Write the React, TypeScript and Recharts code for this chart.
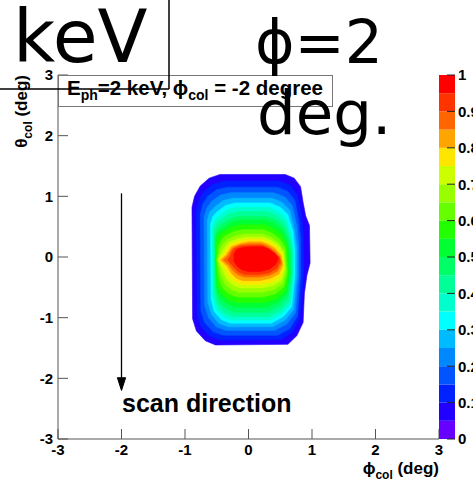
import React from "react";
import { ScatterChart, Scatter, XAxis, YAxis, BarChart, Bar } from "recharts";

const FONT = '"Liberation Sans", Arial, Helvetica, sans-serif';

// axis ticks (degrees)
const phiTicks = [-3, -2, -1, 0, 1, 2, 3];
const thetaTicks = [-3, -2, -1, 0, 1, 2, 3];
const minorTicks = [
  -3, -2.8, -2.6, -2.4, -2.2, -2, -1.8, -1.6, -1.4, -1.2, -1, -0.8, -0.6, -0.4, -0.2, 0,
  0.2, 0.4, 0.6, 0.8, 1, 1.2, 1.4, 1.6, 1.8, 2, 2.2, 2.4, 2.6, 2.8, 3,
];

// colour palette (z axis, 20 bands from 0 to 1)
const paletteBounds = [0, 0.05, 0.1, 0.15, 0.2, 0.25, 0.3, 0.35, 0.4, 0.45, 0.5, 0.55, 0.6, 0.65, 0.7, 0.75, 0.8, 0.85, 0.9, 0.95, 1];
const paletteColors = [
  "#6600ff", "#2200ff", "#0022ff", "#0055ff", "#0088ff", "#00bbff", "#00ffff", "#00ffcc", "#00ff99", "#00ff66",
  "#00ff33", "#22ff00", "#66ff00", "#99ff00", "#ccff00", "#ffe600", "#ffa500", "#ff6600", "#ff3300", "#ff0000",
];
const paletteTicks = [0, 0.1, 0.2, 0.3, 0.4, 0.5, 0.6, 0.7, 0.8, 0.9, 1];

// filled contours: lower edge of each band and its outline (phi, theta)
const contourLevels = [0.05, 0.1, 0.15, 0.2, 0.25, 0.3, 0.35, 0.4, 0.45, 0.5, 0.55, 0.6, 0.65, 0.7, 0.75, 0.8, 0.85, 0.9, 0.95];
const contourRings: [number, number][][] = [
  [[-0.76,1.17],[-0.62,1.3],[-0.45,1.36],[0.58,1.36],[0.72,1.3],[0.82,1.16],[0.86,0.9],[0.9,0.68],[0.96,0.52],[0.97,-0.1],[0.92,-0.3],[0.88,-0.6],[0.86,-1.08],[0.76,-1.3],[0.62,-1.44],[-0.52,-1.45],[-0.68,-1.38],[-0.82,-1.22],[-0.88,-1.02],[-0.89,0.82],[-0.85,1.0]],
  [[-0.7,1.08],[-0.56,1.2],[-0.4,1.25],[0.5,1.25],[0.66,1.18],[0.77,1.02],[0.83,0.7],[0.86,0.4],[0.87,-0.2],[0.84,-0.6],[0.8,-1.02],[0.69,-1.24],[0.52,-1.36],[-0.45,-1.37],[-0.62,-1.3],[-0.75,-1.15],[-0.81,-0.95],[-0.82,0.75],[-0.78,0.94]],
  [[-0.64,1.0],[-0.5,1.11],[-0.33,1.15],[0.45,1.15],[0.62,1.08],[0.73,0.93],[0.79,0.6],[0.82,0.3],[0.82,-0.3],[0.77,-0.98],[0.65,-1.18],[0.46,-1.29],[-0.4,-1.29],[-0.56,-1.23],[-0.69,-1.08],[-0.75,-0.88],[-0.76,0.7],[-0.72,0.87]],
  [[-0.58,0.92],[-0.44,1.02],[-0.28,1.06],[0.4,1.06],[0.57,0.99],[0.69,0.85],[0.76,0.52],[0.79,0.2],[0.79,-0.3],[0.74,-0.92],[0.61,-1.1],[0.41,-1.21],[-0.35,-1.21],[-0.51,-1.15],[-0.63,-1.0],[-0.69,-0.8],[-0.7,0.65],[-0.66,0.8]],
  [[-0.53,0.83],[-0.4,0.93],[-0.24,0.97],[0.37,0.97],[0.53,0.9],[0.65,0.77],[0.72,0.47],[0.76,0.15],[0.76,-0.3],[0.71,-0.87],[0.58,-1.04],[0.38,-1.15],[-0.32,-1.15],[-0.47,-1.09],[-0.58,-0.95],[-0.64,-0.75],[-0.65,0.6],[-0.61,0.74]],
  [[-0.49,0.75],[-0.36,0.85],[-0.21,0.89],[0.34,0.89],[0.5,0.82],[0.62,0.7],[0.7,0.42],[0.73,0.12],[0.73,-0.3],[0.68,-0.82],[0.55,-0.98],[0.36,-1.09],[-0.29,-1.09],[-0.43,-1.03],[-0.54,-0.9],[-0.59,-0.7],[-0.6,0.54],[-0.56,0.67]],
  [[-0.46,0.68],[-0.33,0.78],[-0.19,0.82],[0.32,0.82],[0.47,0.75],[0.59,0.64],[0.67,0.38],[0.71,0.1],[0.71,-0.3],[0.66,-0.78],[0.53,-0.93],[0.34,-1.04],[-0.27,-1.04],[-0.4,-0.98],[-0.51,-0.86],[-0.56,-0.66],[-0.57,0.48],[-0.53,0.61]],
  [[-0.44,0.61],[-0.31,0.71],[-0.17,0.75],[0.3,0.75],[0.45,0.68],[0.57,0.57],[0.65,0.34],[0.69,0.08],[0.69,-0.3],[0.64,-0.73],[0.51,-0.88],[0.32,-0.98],[-0.25,-0.98],[-0.38,-0.92],[-0.49,-0.8],[-0.54,-0.6],[-0.55,0.43],[-0.51,0.55]],
  [[-0.42,0.54],[-0.29,0.63],[-0.15,0.67],[0.28,0.67],[0.43,0.61],[0.55,0.5],[0.63,0.3],[0.67,0.06],[0.67,-0.3],[0.62,-0.67],[0.49,-0.81],[0.3,-0.91],[-0.23,-0.91],[-0.36,-0.85],[-0.47,-0.74],[-0.52,-0.55],[-0.53,0.37],[-0.49,0.48]],
  [[-0.4,0.48],[-0.27,0.57],[-0.13,0.61],[0.26,0.61],[0.41,0.55],[0.53,0.45],[0.61,0.26],[0.65,0.04],[0.65,-0.3],[0.6,-0.61],[0.47,-0.74],[0.28,-0.83],[-0.21,-0.83],[-0.34,-0.77],[-0.45,-0.67],[-0.51,-0.5],[-0.52,0.32],[-0.48,0.42]],
  [[-0.38,0.42],[-0.25,0.5],[-0.11,0.53],[0.25,0.53],[0.39,0.47],[0.51,0.38],[0.6,0.2],[0.63,-0.28],[0.58,-0.56],[0.45,-0.68],[0.26,-0.75],[-0.19,-0.75],[-0.32,-0.7],[-0.43,-0.6],[-0.49,-0.45],[-0.51,-0.05],[-0.5,0.26],[-0.46,0.36]],
  [[-0.36,0.35],[-0.23,0.42],[-0.09,0.45],[0.24,0.45],[0.37,0.39],[0.49,0.3],[0.58,0.15],[0.61,-0.25],[0.56,-0.49],[0.43,-0.6],[0.24,-0.66],[-0.17,-0.66],[-0.3,-0.61],[-0.4,-0.52],[-0.46,-0.38],[-0.5,-0.05],[-0.47,0.19],[-0.42,0.29]],
  [[-0.33,0.29],[-0.2,0.35],[-0.06,0.38],[0.23,0.38],[0.36,0.32],[0.47,0.24],[0.56,0.1],[0.59,-0.22],[0.54,-0.43],[0.41,-0.53],[0.22,-0.58],[-0.15,-0.58],[-0.28,-0.53],[-0.37,-0.44],[-0.43,-0.3],[-0.49,-0.05],[-0.44,0.14],[-0.39,0.23]],
  [[-0.31,0.24],[-0.18,0.3],[-0.04,0.33],[0.22,0.33],[0.35,0.28],[0.46,0.2],[0.55,0.07],[0.57,-0.19],[0.52,-0.38],[0.39,-0.47],[0.2,-0.51],[-0.13,-0.51],[-0.25,-0.46],[-0.34,-0.37],[-0.4,-0.24],[-0.48,-0.05],[-0.41,0.1],[-0.36,0.18]],
  [[-0.29,0.2],[-0.16,0.26],[-0.02,0.29],[0.21,0.29],[0.33,0.25],[0.44,0.17],[0.53,0.05],[0.56,-0.16],[0.5,-0.33],[0.37,-0.41],[0.18,-0.45],[-0.11,-0.45],[-0.22,-0.4],[-0.31,-0.31],[-0.37,-0.19],[-0.47,-0.05],[-0.38,0.06],[-0.34,0.13]],
  [[-0.27,0.17],[-0.14,0.22],[0.0,0.25],[0.2,0.25],[0.31,0.21],[0.42,0.14],[0.51,0.03],[0.54,-0.13],[0.48,-0.28],[0.35,-0.35],[0.17,-0.39],[-0.09,-0.39],[-0.19,-0.35],[-0.27,-0.27],[-0.33,-0.16],[-0.44,-0.05],[-0.35,0.04],[-0.31,0.1]],
  [[-0.25,0.15],[-0.13,0.2],[0.02,0.22],[0.2,0.22],[0.3,0.18],[0.4,0.11],[0.49,0.01],[0.52,-0.1],[0.46,-0.23],[0.33,-0.3],[0.16,-0.33],[-0.07,-0.33],[-0.17,-0.29],[-0.25,-0.22],[-0.31,-0.13],[-0.4,-0.05],[-0.32,0.03],[-0.29,0.09]],
  [[-0.22,0.14],[-0.11,0.18],[0.03,0.19],[0.21,0.19],[0.3,0.15],[0.4,0.08],[0.48,0.0],[0.5,-0.07],[0.45,-0.18],[0.33,-0.26],[0.15,-0.29],[-0.05,-0.29],[-0.15,-0.25],[-0.22,-0.18],[-0.28,-0.11],[-0.33,-0.05],[-0.28,0.03],[-0.26,0.09]],
  [[-0.18,0.13],[-0.06,0.16],[0.05,0.17],[0.23,0.17],[0.32,0.13],[0.41,0.06],[0.47,-0.02],[0.43,-0.12],[0.33,-0.2],[0.18,-0.24],[0.0,-0.24],[-0.11,-0.21],[-0.18,-0.15],[-0.23,-0.07],[-0.23,0.05]],
];

// "scan direction" arrow
const arrowShaft = [{ x: -2, y: 1.05 }, { x: -2, y: -2.02 }];
const arrowHead = [{ x: -2.065, y: -1.99 }, { x: -1.935, y: -1.99 }, { x: -2, y: -2.2 }];

const paletteData = [
  Object.fromEntries(paletteColors.map((_, i) => [`b${i}`, paletteBounds[i + 1] - paletteBounds[i]])),
];

const noPoint = () => <g />;
const tickStyle = { fill: "#000", fontSize: 15, fontWeight: 700, fontFamily: FONT };

export default function App() {
  return (
    <div style={{ position: "absolute", left: 0, top: 0, width: 473, height: 482, background: "#fff", overflow: "hidden" }}>
      <div style={{ position: "absolute", left: 0, top: 0 }}>
        <ScatterChart width={473} height={482} margin={{ top: 75, right: 34, bottom: 0, left: 0 }}>
          <XAxis
            dataKey="x" type="number" domain={[-3, 3]} ticks={phiTicks} interval={0} allowDataOverflow
            height={43} tickSize={-10} tickMargin={15} stroke="#555" tick={tickStyle}
          />
          <XAxis
            xAxisId="minor" type="number" domain={[-3, 3]} ticks={minorTicks} interval={0} allowDataOverflow
            mirror tickSize={5} tick={false} axisLine={false} stroke="#555"
          />
          <XAxis xAxisId="top" orientation="top" type="number" domain={[-3, 3]} height={0} tick={false} tickLine={false} stroke="#777" />
          <YAxis
            dataKey="y" type="number" domain={[-3, 3]} ticks={thetaTicks} interval={0} allowDataOverflow
            width={58} tickSize={-10} tickMargin={15} stroke="#555" tick={tickStyle}
          />
          <YAxis
            yAxisId="minor" type="number" domain={[-3, 3]} ticks={minorTicks} interval={0} allowDataOverflow
            mirror tickSize={5} tick={false} axisLine={false} stroke="#555"
          />
          <YAxis yAxisId="right" orientation="right" type="number" domain={[-3, 3]} width={0} tick={false} tickLine={false} stroke="#777" />
          {contourRings.map((ring, i) => {
            const color = paletteColors[Math.round(contourLevels[i] / 0.05)];
            return (
              <Scatter
                key={`lvl${i}`}
                data={ring.map(([x, y]) => ({ x, y }))}
                fill={color}
                line={{ fill: color, stroke: color, strokeWidth: 0.6 }}
                lineType="joint"
                lineJointType="linearClosed"
                shape={noPoint}
                isAnimationActive={false}
              />
            );
          })}
          <Scatter
            data={arrowShaft} fill="#000" line={{ stroke: "#000", strokeWidth: 1.3 }}
            lineType="joint" shape={noPoint} isAnimationActive={false}
          />
          <Scatter
            data={arrowHead} fill="#000" line={{ fill: "#000", stroke: "#000", strokeWidth: 1 }}
            lineType="joint" lineJointType="linearClosed" shape={noPoint} isAnimationActive={false}
          />
        </ScatterChart>
      </div>
      <div style={{ position: "absolute", left: 439, top: 0 }}>
        <BarChart width={34} height={482} data={paletteData} margin={{ top: 75, right: 0, bottom: 43, left: 0 }} barCategoryGap={0}>
          <XAxis hide />
          <YAxis
            orientation="right" type="number" domain={[0, 1]} ticks={paletteTicks} interval={0} allowDataOverflow
            width={18} tickSize={-8} tickMargin={11} axisLine={false} stroke="#222" tick={tickStyle}
          />
          {paletteColors.map((c, i) => (
            <Bar key={c} dataKey={`b${i}`} stackId="z" fill={c} isAnimationActive={false} />
          ))}
        </BarChart>
      </div>
      <svg width={473} height={482} style={{ position: "absolute", left: 0, top: 0, pointerEvents: "none" }}>
        <rect x={58.5} y={75.5} width={274} height={31} fill="#fff" stroke="#777" />
        <text x={67} y={95} fontFamily={FONT} fontWeight={700} fontSize={20.5}>
          E<tspan fontSize={14} dy={5}>ph</tspan>
          <tspan dy={-5}>=2 keV, ϕ</tspan>
          <tspan fontSize={14} dy={5}>col</tspan>
          <tspan dy={-5}>{" = -2 degree"}</tspan>
        </text>
        <text x={122} y={412} fontFamily={FONT} fontWeight={700} fontSize={25}>scan direction</text>
        <text transform="translate(27,75) rotate(-90)" textAnchor="end" fontFamily={FONT} fontWeight={700} fontSize={17}>
          θ<tspan fontSize={12} dy={5}>col</tspan>
          <tspan dy={-5}>{" (deg)"}</tspan>
        </text>
        <text x={439} y={474} textAnchor="end" fontFamily={FONT} fontWeight={700} fontSize={17}>
          ϕ<tspan fontSize={12} dy={5}>col</tspan>
          <tspan dy={-5}>{" (deg)"}</tspan>
        </text>
        <text x={13} y={62} fontFamily='"DejaVu Sans", sans-serif' fontSize={73}>keV</text>
        <text x={255} y={63} fontFamily='"DejaVu Sans", sans-serif' fontSize={60}>ϕ=2</text>
        <text x={257} y={134} fontFamily='"DejaVu Sans", sans-serif' fontSize={61}>deg.</text>
        <line x1={169} y1={0} x2={169} y2={89} stroke="#000" strokeWidth={1.5} />
        <line x1={0} y1={89} x2={169} y2={89} stroke="#000" strokeWidth={1.5} />
      </svg>
    </div>
  );
}
